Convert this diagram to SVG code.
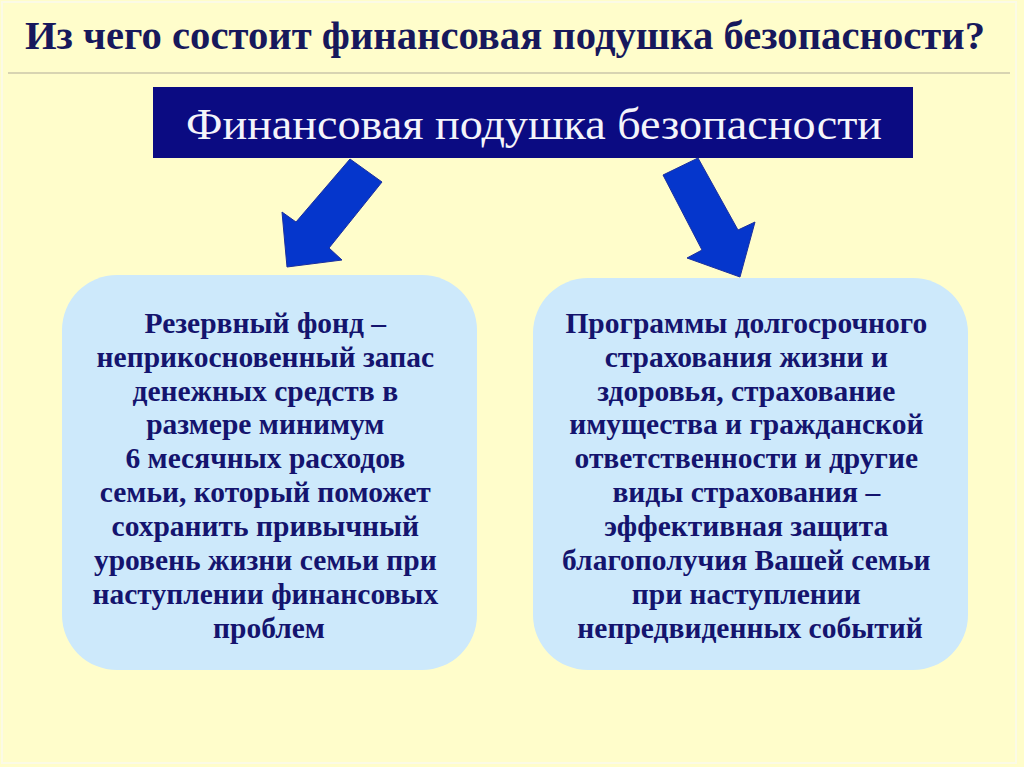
<svg xmlns="http://www.w3.org/2000/svg" width="1024" height="767" viewBox="0 0 1024 767">
<style>
.title{font-family:"Liberation Serif","Times New Roman",serif;font-weight:bold;font-size:39px;fill:#17185c}
.head{font-family:"Liberation Serif","Times New Roman",serif;font-size:44px;fill:#f4f4fa}
.body{font-family:"Liberation Serif","Times New Roman",serif;font-weight:bold;font-size:29.5px;fill:#14146e;text-anchor:middle}
.card{fill:#cde9fb}
.arrow{fill:#0536cc;stroke:#1a2fa0;stroke-width:1}
</style>
<rect x="0" y="0" width="1024" height="767" fill="#fffdcb"/>
<rect x="2" y="2" width="1014" height="761" fill="none" stroke="#fbfae6" stroke-width="2"/>
<text class="title" x="25" y="49" textLength="960" lengthAdjust="spacingAndGlyphs">Из чего состоит финансовая подушка безопасности?</text>
<line x1="8" y1="73" x2="1010" y2="73" stroke="#d8d4b2" stroke-width="2"/>
<g id="root">
<rect x="153" y="87" width="760" height="71" fill="#0b0b82"/>
<text class="head" x="186" y="139" textLength="696" lengthAdjust="spacingAndGlyphs">Финансовая подушка безопасности</text>
</g>
<g id="connectors">
<polygon class="arrow" points="350,159 382,182 329,248 342,260 287,267 282,212 296,222"/>
<polygon class="arrow" points="663,175 698,158 738,230 755,222 740,277 687,258 702,250"/>
</g>
<g id="reserve">
<rect class="card" x="62" y="275" width="415" height="395" rx="55" ry="55"/>
<text class="body">
<tspan x="269" y="333">Резервный фонд –</tspan>
<tspan x="269" y="367">неприкосновенный запас</tspan>
<tspan x="269" y="401">денежных средств в</tspan>
<tspan x="269" y="434">размере минимум</tspan>
<tspan x="269" y="468">6 месячных расходов</tspan>
<tspan x="269" y="502">семьи, который поможет</tspan>
<tspan x="269" y="536">сохранить привычный</tspan>
<tspan x="269" y="570">уровень жизни семьи при</tspan>
<tspan x="269" y="604">наступлении финансовых</tspan>
<tspan x="269" y="638">проблем</tspan>
</text>
</g>
<g id="insurance">
<rect class="card" x="533" y="278" width="435" height="392" rx="55" ry="55"/>
<text class="body">
<tspan x="750" y="333">Программы долгосрочного</tspan>
<tspan x="750" y="367">страхования жизни и</tspan>
<tspan x="750" y="401">здоровья, страхование</tspan>
<tspan x="750" y="434">имущества и гражданской</tspan>
<tspan x="750" y="468">ответственности и другие</tspan>
<tspan x="750" y="502">виды страхования –</tspan>
<tspan x="750" y="536">эффективная защита</tspan>
<tspan x="750" y="570">благополучия Вашей семьи</tspan>
<tspan x="750" y="604">при наступлении</tspan>
<tspan x="750" y="638">непредвиденных событий</tspan>
</text>
</g>
</svg>
